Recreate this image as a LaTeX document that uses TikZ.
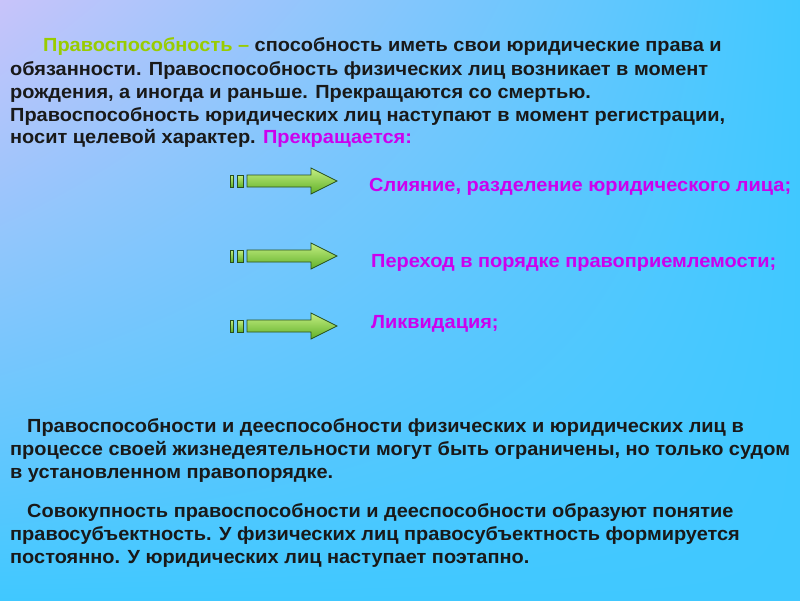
\documentclass[tikz,border=0pt]{standalone}
\usepackage{fontspec}
\setmainfont{Liberation Sans}[FakeStretch=1.05]
\usepackage{tikz}
\usetikzlibrary{shadings}
\definecolor{bglav}{RGB}{200,196,250}
\definecolor{bgcyan}{RGB}{64,200,255}
\definecolor{termgreen}{RGB}{153,204,0}
\definecolor{endmag}{RGB}{204,0,238}
\definecolor{arrowlight}{RGB}{196,238,130}
\definecolor{arrowdark}{RGB}{96,176,40}
\definecolor{arrowline}{RGB}{40,80,30}

\begin{document}
\begin{tikzpicture}[x=1pt,y=-1pt,
	txt/.style={anchor=base west,inner sep=0pt,text=black!90,font=\fontsize{19}{23}\selectfont\bfseries},
	lbl/.style={txt,text=endmag},
	arrowpart/.style={draw=arrowline,thick,top color=arrowlight,bottom color=arrowdark}]
		\shade[upper left=bglav,upper right=bgcyan,lower left=bgcyan,lower right=bgcyan] (0,0) rectangle (800,600); %background
		\useasboundingbox (0,0) rectangle (800,600);
		\node[txt] (p1a) at (43,51) {\textcolor{termgreen}{Правоспособность –} способность иметь свои юридические права и}; %first paragraph
		\node[txt] (p1b) at (10,75) {обязанности. Правоспособность физических лиц возникает в момент};
		\node[txt] (p1c) at (10,98) {рождения, а иногда и раньше. Прекращаются со смертью.};
		\node[txt] (p1d) at (10,121) {Правоспособность юридических лиц наступают в момент регистрации,};
		\node[txt] (p1e) at (10,143) {носит целевой характер. \textcolor{endmag}{Прекращается:}};
		\path[arrowpart] (230,175) rectangle (233.5,187); % arrows
		\path[arrowpart] (237,175) rectangle (243.5,187);
		\path[arrowpart] (247,175) -- (311,175) -- (311,168) -- (337,181) -- (311,194) -- (311,187) -- (247,187) -- cycle;
		\path[arrowpart] (230,250) rectangle (233.5,262);
		\path[arrowpart] (237,250) rectangle (243.5,262);
		\path[arrowpart] (247,250) -- (311,250) -- (311,243) -- (337,256) -- (311,269) -- (311,262) -- (247,262) -- cycle;
		\path[arrowpart] (230,320) rectangle (233.5,332);
		\path[arrowpart] (237,320) rectangle (243.5,332);
		\path[arrowpart] (247,320) -- (311,320) -- (311,313) -- (337,326) -- (311,339) -- (311,332) -- (247,332) -- cycle;
		\node[lbl] (end1) at (369,191) {Слияние, разделение юридического лица;}; % ways it ends
		\node[lbl] (end2) at (371,267) {Переход в порядке правоприемлемости;};
		\node[lbl] (end3) at (371,328) {Ликвидация;};
		\node[txt] (p2a) at (27,432) {Правоспособности и дееспособности физических и юридических лиц в}; %second paragraph
		\node[txt] (p2b) at (10,455) {процессе своей жизнедеятельности могут быть ограничены, но только судом};
		\node[txt] (p2c) at (10,478) {в установленном правопорядке.};
		\node[txt] (p3a) at (27,517) {Совокупность правоспособности и дееспособности образуют понятие}; %third paragraph
		\node[txt] (p3b) at (10,540) {правосубъектность. У физических лиц правосубъектность формируется};
		\node[txt] (p3c) at (10,563) {постоянно. У юридических лиц наступает поэтапно.};
	\end{tikzpicture}
\end{document}
